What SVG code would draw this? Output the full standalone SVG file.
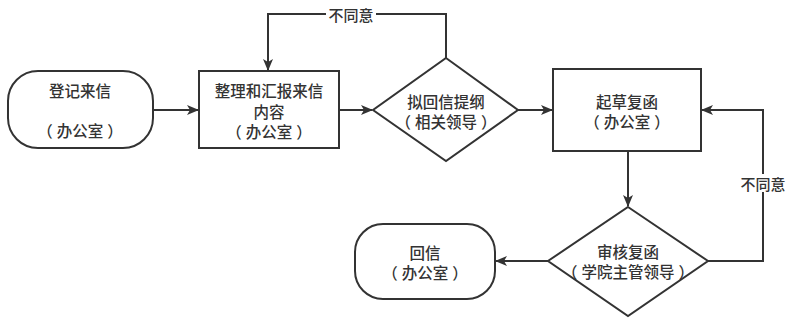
<svg xmlns="http://www.w3.org/2000/svg" width="803" height="325" viewBox="0 0 803 325">
<style>
.s{fill:#fff;stroke:#333;stroke-width:2}
.c{fill:none;stroke:#333;stroke-width:2}
text{font-family:"Noto Sans CJK SC","Noto Sans",sans-serif;font-size:15.5px;font-weight:500;fill:#333;text-anchor:middle;dominant-baseline:central}
.l{font-size:15px}
.bg{fill:#fff}
</style>
<defs>
<marker id="a" markerWidth="12" markerHeight="10" refX="11" refY="5" orient="auto" markerUnits="userSpaceOnUse">
<path d="M0,0 L12,5 L0,10 L3,5 Z" fill="#333"/>
</marker>
</defs>
<g id="connectors">
<path class="c" d="M153,110 H198" marker-end="url(#a)"/>
<path class="c" d="M339,110 H372" marker-end="url(#a)"/>
<path class="c" d="M446,58 V14 H268 V70" marker-end="url(#a)"/>
<rect class="bg" x="326" y="5" width="50" height="18"/>
<text class="l" x="351" y="14">不同意</text>
<path class="c" d="M518,110 H552" marker-end="url(#a)"/>
<path class="c" d="M628,151 V206" marker-end="url(#a)"/>
<path class="c" d="M548,261 H496" marker-end="url(#a)"/>
<path class="c" d="M708,261 H763 V110 H702" marker-end="url(#a)"/>
<rect class="bg" x="738" y="174" width="50" height="18"/>
<text class="l" x="763" y="183">不同意</text>
</g>
<g id="n1">
<rect class="s" x="8" y="71" width="145" height="77" rx="30" ry="30"/>
<text x="80" y="90">登记来信</text>
<text x="80" y="130">（<tspan dx="4">办公室</tspan><tspan dx="4">）</tspan></text>
</g>
<g id="n2">
<rect class="s" x="199" y="71" width="140" height="77"/>
<text x="269" y="90">整理和汇报来信</text>
<text x="269" y="111">内容</text>
<text x="269" y="131">（<tspan dx="4">办公室</tspan><tspan dx="4">）</tspan></text>
</g>
<g id="n3">
<path class="s" d="M446,58 L518,110 L446,161 L373,110 Z"/>
<text x="446" y="101">拟回信提纲</text>
<text x="446" y="121">（<tspan dx="4">相关领导</tspan><tspan dx="4">）</tspan></text>
</g>
<g id="n4">
<rect class="s" x="553" y="69" width="148" height="82"/>
<text x="627" y="101">起草复函</text>
<text x="627" y="121">（<tspan dx="4">办公室</tspan><tspan dx="4">）</tspan></text>
</g>
<g id="n5">
<path class="s" d="M628,207 L708,261 L628,316 L548,261 Z"/>
<text x="628" y="251">审核复函</text>
<text x="628" y="271">（<tspan dx="4">学院主管领导</tspan><tspan dx="4">）</tspan></text>
</g>
<g id="n6">
<rect class="s" x="355" y="224" width="140" height="75" rx="28" ry="28"/>
<text x="425" y="252">回信</text>
<text x="425" y="272">（<tspan dx="4">办公室</tspan><tspan dx="4">）</tspan></text>
</g>
</svg>
